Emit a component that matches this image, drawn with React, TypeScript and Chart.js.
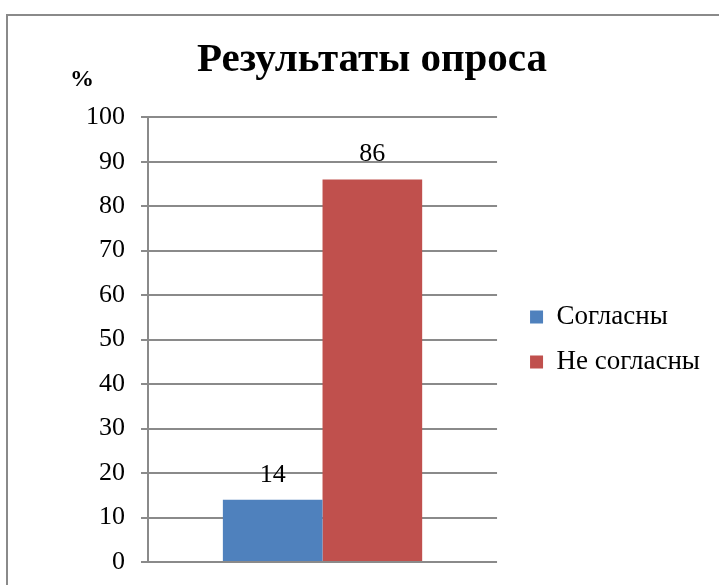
import React, { useEffect, useRef } from "react";
import { Chart, registerables } from "chart.js";

Chart.register(...registerables);

const categories = [""];
const seriesNames = ["Согласны", "Не согласны"];
const agreeValues = [14];
const disagreeValues = [86];
const seriesColors = ["#4F81BD", "#C0504D"];
const titleText = "Результаты опроса";
const unitLabel = "%";
const yMin = 0;
const yMax = 100;
const yStep = 10;

const FONT = "'Liberation Serif', 'Times New Roman', serif";
const GRID = "#8a8a8a";

const framePlugin = {
  id: "frame",
  beforeDraw(chart: any) {
    const ctx = chart.ctx;
    ctx.save();
    ctx.fillStyle = "#ffffff";
    ctx.fillRect(0, 0, chart.width, chart.height);
    ctx.strokeStyle = GRID;
    ctx.lineWidth = 2;
    ctx.strokeRect(7, 15, chart.width + 50, chart.height + 50);
    ctx.restore();
  },
};

const extrasPlugin = {
  id: "extras",
  afterDatasetsDraw(chart: any) {
    const ctx = chart.ctx;
    ctx.save();
    ctx.fillStyle = "#000";
    ctx.font = `26px ${FONT}`;
    ctx.textAlign = "center";
    ctx.textBaseline = "middle";
    chart.data.datasets.forEach((ds: any, i: number) => {
      const meta = chart.getDatasetMeta(i);
      meta.data.forEach((el: any, j: number) => {
        ctx.fillText(String(ds.data[j]), el.x, el.y - 25);
      });
    });
    const area = chart.chartArea;
    ctx.font = `bold 24px ${FONT}`;
    ctx.fillText(unitLabel, area.left - 66, area.top - 37);
    ctx.restore();
  },
};

export default function App() {
  const ref = useRef<HTMLCanvasElement | null>(null);
  useEffect(() => {
    if (!ref.current) return;
    const chart = new Chart(ref.current, {
      type: "bar",
      data: {
        labels: categories,
        datasets: [
          {
            label: seriesNames[0],
            data: agreeValues,
            backgroundColor: seriesColors[0],
            categoryPercentage: 0.571,
            barPercentage: 1,
          },
          {
            label: seriesNames[1],
            data: disagreeValues,
            backgroundColor: seriesColors[1],
            categoryPercentage: 0.571,
            barPercentage: 1,
          },
        ],
      },
      options: {
        responsive: false,
        animation: false,
        layout: { padding: { top: 0, left: 34, right: 9, bottom: 23 } },
        plugins: {
          title: {
            display: true,
            text: titleText,
            color: "#000",
            font: { family: FONT, size: 41, weight: "bold" },
            padding: { top: 36, bottom: 32 },
          },
          legend: {
            position: "right",
            fullSize: false,
            maxWidth: 260,
            labels: {
              color: "#000",
              font: { family: FONT, size: 27 },
              boxWidth: 13,
              boxHeight: 13,
              padding: 18,
            },
          },
          tooltip: { enabled: false },
        },
        scales: {
          x: {
            ticks: { display: false },
            grid: { display: false, drawTicks: false },
            border: { display: false },
          },
          y: {
            min: yMin,
            max: yMax,
            ticks: {
              stepSize: yStep,
              color: "#000",
              font: { family: FONT, size: 26 },
              padding: 16,
            },
            grid: { color: GRID, lineWidth: 2, tickLength: 7 },
            border: { color: GRID, width: 2 },
            afterFit: (s: any) => {
              s.width = 114;
              s.paddingTop = 0;
              s.paddingBottom = 0;
            },
          },
          spacer: {
            type: "linear",
            position: "right",
            display: true,
            ticks: { display: false },
            grid: { display: false, drawTicks: false },
            border: { display: false },
            afterFit: (s: any) => {
              s.width = 15;
              s.paddingTop = 0;
              s.paddingBottom = 0;
            },
          },
        },
      } as any,
      plugins: [framePlugin, extrasPlugin],
    });
    return () => chart.destroy();
  }, []);
  return (
    <div style={{ position: "absolute", left: 0, top: 0, width: 719, height: 585, overflow: "hidden", background: "#fff" }}>
      <canvas ref={ref} width={719} height={585} style={{ width: 719, height: 585 }} />
    </div>
  );
}
